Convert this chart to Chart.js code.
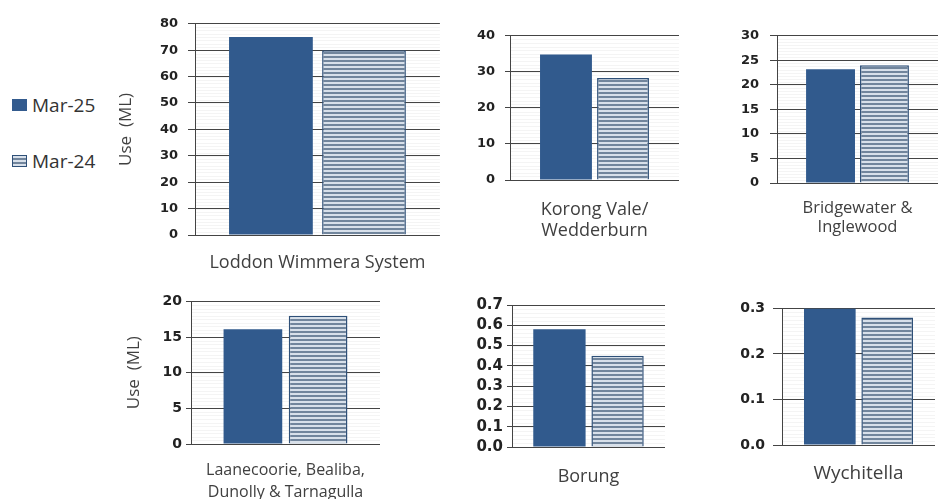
<!DOCTYPE html>
<html><head><meta charset="utf-8">
<script src="https://cdn.jsdelivr.net/npm/chart.js@4.4.1/dist/chart.umd.min.js"></script>
<style>
html,body{margin:0;padding:0;background:#fff;width:943px;height:499px;overflow:hidden;position:relative;font-family:'Open Sans',sans-serif;}
canvas{position:absolute;}
.leg{position:absolute;left:12px;font:19px 'Open Sans';color:#333;display:flex;align-items:center;line-height:26px;}
.sw{display:inline-block;width:15px;height:12px;margin-right:5px;box-sizing:border-box;}
</style></head><body>
<div class="leg" style="top:92px"><span class="sw" style="background:#335b8e"></span><span id="lg0"></span></div>
<div class="leg" style="top:148px"><span class="sw" style="border:1px solid #2f5078;background:repeating-linear-gradient(#d8e0ea 0 2px,#71859c 2px 4px)"></span><span id="lg1"></span></div>
<script>
// ---- data ----
const categories = ['Loddon Wimmera System', ['Korong Vale/', 'Wedderburn'], ['Bridgewater &', 'Inglewood'], ['Laanecoorie, Bealiba,', 'Dunolly & Tarnagulla'], 'Borung', 'Wychitella'];
const seriesNames = ['Mar-25', 'Mar-24'];
const mar25 = [75, 34.8, 23.2, 16.1, 0.58, 0.30];
const mar24 = [70, 28.3, 24.0, 18.0, 0.45, 0.28];
const yMax = [80, 40, 30, 20, 0.7, 0.3];
const yStep = [10, 10, 5, 5, 0.1, 0.1];
const yDecimals = [0, 0, 0, 0, 1, 1];
const yTitle = 'Use  (ML)';

// ---- layout / style ----
const panels = [
  {left:110, top:6,   w:335, h:279, yW:85, plotW:245, xH:50, title:true,  tPad:6,  tickFont:13, tickLen:7, tickPad:10, catFont:18, catLH:1.2,  catPad:17, cat:0.76, bar:0.9, minor:1.25},
  {left:455, top:18,  w:229, h:232, yW:55, plotW:169, xH:70, title:false, tPad:0,  tickFont:13, tickLen:5, tickPad:10, catFont:18, catLH:1.17, catPad:19, cat:0.675, bar:0.91, minor:1},
  {left:722, top:17,  w:220, h:231, yW:55, plotW:161, xH:65, title:false, tPad:0,  tickFont:13, tickLen:7, tickPad:11, catFont:16.5, catLH:1.15, catPad:16, cat:0.67, bar:0.907, minor:0.625},
  {left:111, top:289, w:274, h:210, yW:80, plotW:189, xH:55, title:true,  tPad:13, tickFont:14, tickLen:5, tickPad:4,  catFont:16, catLH:1.375, catPad:15, cat:0.69, bar:0.9, minor:0.5},
  {left:452, top:292, w:218, h:207, yW:60, plotW:153, xH:52, title:false, tPad:0,  tickFont:15, tickLen:5, tickPad:4,  catFont:18, catLH:1.2,  catPad:19, cat:0.76, bar:0.9, minor:0.02},
  {left:722, top:292, w:218, h:207, yW:60, plotW:153, xH:54, title:false, tPad:0,  tickFont:14, tickLen:9, tickPad:8,  catFont:19, catLH:1.2,  catPad:17, cat:0.75, bar:0.9, minor:0.1/12}
];

document.getElementById('lg0').textContent = seriesNames[0];
document.getElementById('lg1').textContent = seriesNames[1];

function stripePattern() {
  const c = document.createElement('canvas');
  c.width = 4; c.height = 4;
  const g = c.getContext('2d');
  g.fillStyle = '#d8e0ea'; g.fillRect(0, 0, 4, 2);
  g.fillStyle = '#71859c'; g.fillRect(0, 2, 4, 2);
  return g.createPattern(c, 'repeat');
}

const minorGrid = {
  id: 'minorGrid',
  beforeDraw(chart, args, opts) {
    const y = chart.scales.y, a = chart.chartArea, ctx = chart.ctx;
    ctx.save();
    ctx.strokeStyle = '#f4f4f4';
    ctx.lineWidth = 1;
    const n = Math.round((y.max - y.min) / opts.step);
    for (let k = 1; k < n; k++) {
      const py = Math.round(y.getPixelForValue(y.min + k * opts.step)) + 0.5;
      ctx.beginPath(); ctx.moveTo(a.left, py); ctx.lineTo(a.right, py); ctx.stroke();
    }
    ctx.restore();
  }
};

panels.forEach((p, i) => {
  const cv = document.createElement('canvas');
  cv.width = p.w; cv.height = p.h;
  cv.style.left = p.left + 'px'; cv.style.top = p.top + 'px';
  cv.style.width = p.w + 'px'; cv.style.height = p.h + 'px';
  document.body.appendChild(cv);
  const ctx = cv.getContext('2d');
  new Chart(ctx, {
    type: 'bar',
    data: {
      labels: [categories[i]],
      datasets: [
        {label: seriesNames[0], data: [mar25[i]], backgroundColor: '#315a8d', borderWidth: 0,
         categoryPercentage: p.cat, barPercentage: p.bar},
        {label: seriesNames[1], data: [mar24[i]], backgroundColor: stripePattern(), borderColor: '#2f5078', borderWidth: 1.5,
         categoryPercentage: p.cat, barPercentage: p.bar}
      ]
    },
    options: {
      responsive: false, animation: false, devicePixelRatio: 1,
      layout: {padding: {top: 12, right: p.w - p.yW - p.plotW, left: 0, bottom: 0}},
      plugins: {legend: {display: false}, tooltip: {enabled: false}, minorGrid: {step: p.minor}},
      scales: {
        x: {
          grid: {display: false, drawTicks: false},
          border: {display: false},
          ticks: {color: '#404040', padding: p.catPad, maxRotation: 0, autoSkip: false,
                  font: {family: "'Open Sans'", size: p.catFont, lineHeight: p.catLH}},
          afterFit(s) { s.height = p.xH; }
        },
        y: {
          min: 0, max: yMax[i],
          grid: {color: '#444444', lineWidth: 1, tickLength: p.tickLen, drawTicks: true},
          border: {display: true, color: '#444444', width: 1},
          ticks: {stepSize: yStep[i], autoSkip: false, color: '#222222', padding: p.tickPad,
                  font: {family: "'DejaVu Sans'", size: p.tickFont, weight: 'bold'},
                  callback: v => Number(v).toFixed(yDecimals[i])},
          title: {display: p.title, text: yTitle, color: '#404040', padding: {top: p.tPad, bottom: 0},
                  font: {family: "'Open Sans'", size: 17}},
          afterFit(s) { s.width = p.yW; }
        }
      }
    },
    plugins: [minorGrid]
  });
});
</script>
</body></html>
